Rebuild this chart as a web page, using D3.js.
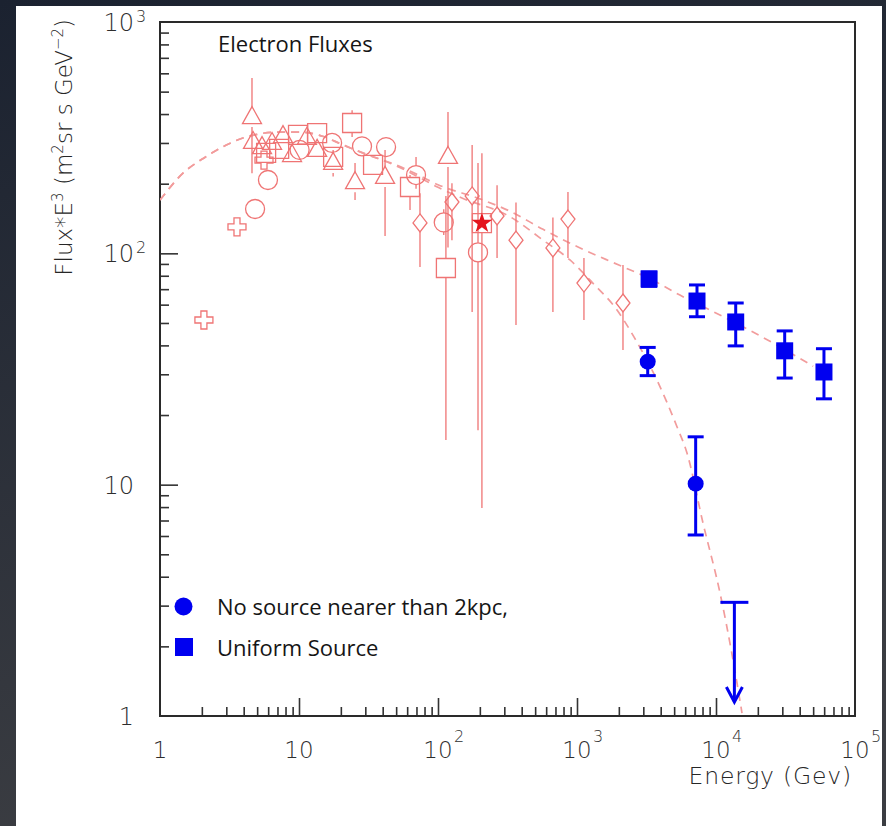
<!DOCTYPE html>
<html>
<head>
<meta charset="utf-8">
<script src="https://cdn.jsdelivr.net/npm/d3@7"></script>
<style>
  html, body { margin: 0; padding: 0; background: #262b33; }
  svg { display: block; }
</style>
</head>
<body>
<svg id="chart" width="886" height="826"></svg>
<script>
// ---------- axis ticks ----------
const xTickValues = [1, 10, 100, 1000, 10000, 100000];
const xTickBase   = ["1", "10", "10", "10", "10", "10"];
const xTickExp    = ["", "", "2", "3", "4", "5"];
const yTickValues = [1, 10, 100, 1000];
const yTickBase   = ["1", "10", "10", "10"];
const yTickExp    = ["", "", "2", "3"];

// ---------- model curves (energy in GeV, flux*E^3) ----------
const uniformModelE = [1, 1.5, 2, 3, 4, 5, 7, 10, 15, 20, 30, 50, 70, 100, 200, 330, 570, 1000, 2000, 3300, 5500, 12600, 28900, 50000];
const uniformModelF = [170, 225, 255, 294, 316, 327, 334, 334, 320, 297, 269, 241, 220, 198, 172, 152, 127, 107, 89, 78, 66, 51.5, 39.4, 32.5];
const noSourceModelE = [1, 1.5, 2, 3, 4, 5, 7, 10, 15, 20, 30, 50, 70, 100, 150, 330, 570, 890, 1300, 1940, 2600, 3760, 5240, 6185, 8060, 10690, 13250, 15380];
const noSourceModelF = [170, 225, 255, 294, 316, 327, 334, 334, 320, 297, 269, 239, 216, 193, 173, 144, 114, 93.6, 74.4, 56.9, 43, 28.3, 17.8, 13.7, 6.83, 3.40, 1.75, 1.03];

// ---------- measurements: [E, flux, low, high] ----------
const crossPoints = [[2.07, 51.5], [3.58, 130], [5.6, 253]];
const circlePoints = [
  [4.83, 155.5], [5.98, 207.5], [10.1, 280], [17.3, 300], [28.4, 290], [42.3, 288],
  [69.5, 218, 190, 261], [110, 136, 120, 155], [194, 101, 17.2, 246]
];
const trianglePoints = [
  [4.59, 388, 222, 573], [4.67, 303, 270, 335], [5.42, 288], [6.4, 300], [7.67, 321],
  [8.91, 266], [11.4, 316], [13.5, 280], [17.6, 246, 215, 280], [25.3, 203, 170, 246],
  [41.6, 214, 118.8, 280], [118, 261, 106, 408]
];
const squarePoints = [
  [5.8, 272], [7.2, 283], [9.84, 325], [13.5, 331], [17.6, 261], [24.1, 366, 318, 415],
  [34.1, 241, 220, 265], [62.9, 193.5, 154, 218], [114, 86.4, 15.6, 177], [207, 135, 7.93, 271]
];
const diamondPoints = [
  [74.2, 135.3, 87.3, 182], [126, 166.7, 114, 201], [176, 177, 55.8, 294],
  [266, 145, 95.5, 197], [364, 114, 49, 166], [671, 105.5, 55.8, 143],
  [861, 140.7, 95.5, 184], [1122, 74.4, 51.5, 95.5], [2142, 61, 38.2, 89.1]
];
const starPoints = [[207, 135]];

const uniformSource = [
  [3300, 77.5, 72, 83], [7300, 62.2, 53.2, 73], [13860, 50.5, 39.8, 61],
  [31200, 37.9, 28.9, 46.2], [59800, 30.7, 23.5, 38.7]
];
const noSource = [[3226, 34.0, 29.6, 39.2], [7140, 10.1, 6.06, 16.1]];
const noSourceLimit = [[13560, 3.1, 1.15]];   // [E, upper limit, arrow tip]

const legendLabels = ["No source nearer than 2kpc,", "Uniform Source"];

// ---------- layout ----------
const W = 886, H = 826;
const plot = { left: 160, right: 855, top: 22, bottom: 716 };
const pink = "#ef7474";
const pinkDash = "#f29c9c";
const blue = "#0000f0";
const axisFont = "'DejaVu Sans', sans-serif";
const axisWeight = 200;
const textFont = "'Open Sans', sans-serif";

const svg = d3.select("#chart");

// frame background
const defs = svg.append("defs");
const grad = defs.append("linearGradient").attr("id", "bg").attr("x1", 0).attr("y1", 0).attr("x2", 0.25).attr("y2", 1);
grad.append("stop").attr("offset", "0%").attr("stop-color", "#1b2230");
grad.append("stop").attr("offset", "100%").attr("stop-color", "#3b3d42");
svg.append("rect").attr("width", W).attr("height", H).attr("fill", "url(#bg)");
svg.append("rect").attr("x", 16).attr("y", 6).attr("width", 866).attr("height", 820).attr("fill", "#fff");

defs.append("clipPath").attr("id", "plotClip").append("rect")
  .attr("x", plot.left).attr("y", plot.top)
  .attr("width", plot.right - plot.left).attr("height", plot.bottom - plot.top);

const x = d3.scaleLog().domain([1, 1e5]).range([plot.left, plot.right]);
const y = d3.scaleLog().domain([1, 1000]).range([plot.bottom, plot.top]);

// ---------- axes ----------
const minorX = [];
for (let d = 1; d < 1e5; d *= 10) for (let k = 2; k <= 9; k++) minorX.push(d * k);
const minorY = [];
for (let d = 1; d < 1e3; d *= 10) for (let k = 2; k <= 9; k++) minorY.push(d * k);

function styleAxis(g) {
  g.select(".domain").remove();
  g.selectAll("text").remove();
  g.selectAll("line").attr("stroke", "#333").attr("stroke-width", 1.6);
}
svg.append("g").attr("transform", `translate(0,${plot.bottom})`)
  .call(d3.axisBottom(x).tickValues(minorX).tickSize(-9).tickSizeOuter(0).tickFormat(""))
  .call(styleAxis);
svg.append("g").attr("transform", `translate(0,${plot.bottom})`)
  .call(d3.axisBottom(x).tickValues(xTickValues.slice(1, -1)).tickSize(-18).tickSizeOuter(0).tickFormat(""))
  .call(styleAxis);
svg.append("g").attr("transform", `translate(${plot.left},0)`)
  .call(d3.axisLeft(y).tickValues(minorY).tickSize(-9).tickSizeOuter(0).tickFormat(""))
  .call(styleAxis);
svg.append("g").attr("transform", `translate(${plot.left},0)`)
  .call(d3.axisLeft(y).tickValues(yTickValues.slice(1, -1)).tickSize(-18).tickSizeOuter(0).tickFormat(""))
  .call(styleAxis);

svg.append("rect")
  .attr("x", plot.left).attr("y", plot.top)
  .attr("width", plot.right - plot.left).attr("height", plot.bottom - plot.top)
  .attr("fill", "none").attr("stroke", "#2a2a2a").attr("stroke-width", 2);

// tick labels
const tickCol = "#2e2e2e";
xTickValues.forEach((v, i) => {
  svg.append("text").attr("x", x(v)).attr("y", 758)
    .attr("text-anchor", "middle").attr("font-family", axisFont).attr("font-weight", axisWeight)
    .attr("font-size", 23).attr("fill", tickCol).text(xTickBase[i]);
  if (xTickExp[i]) {
    svg.append("text").attr("x", x(v) + 16).attr("y", 742)
      .attr("font-family", axisFont).attr("font-weight", axisWeight)
      .attr("font-size", 16).attr("fill", tickCol).text(xTickExp[i]);
  }
});
yTickValues.forEach((v, i) => {
  svg.append("text").attr("x", 134).attr("y", y(v) + 9)
    .attr("text-anchor", "end").attr("font-family", axisFont).attr("font-weight", axisWeight)
    .attr("font-size", 24).attr("fill", tickCol).text(yTickBase[i]);
  if (yTickExp[i]) {
    svg.append("text").attr("x", 136).attr("y", y(v))
      .attr("font-family", axisFont).attr("font-weight", axisWeight)
      .attr("font-size", 16).attr("fill", tickCol).text(yTickExp[i]);
  }
});

// axis titles
svg.append("text").attr("x", 852).attr("y", 784).attr("text-anchor", "end")
  .attr("font-family", axisFont).attr("font-weight", axisWeight)
  .attr("font-size", 23.5).attr("letter-spacing", 0.8).attr("fill", "#262626").text("Energy (Gev)");

const yTitle = svg.append("text").attr("transform", "translate(72,19) rotate(-90)")
  .attr("text-anchor", "end").attr("font-family", axisFont).attr("font-weight", axisWeight)
  .attr("font-size", 23).attr("fill", "#262626");
yTitle.append("tspan").text("Flux*E");
yTitle.append("tspan").attr("font-size", 15).attr("dy", -9).text("3");
yTitle.append("tspan").attr("dy", 9).text(" (m");
yTitle.append("tspan").attr("font-size", 15).attr("dy", -9).text("2");
yTitle.append("tspan").attr("dy", 9).text("sr s GeV");
yTitle.append("tspan").attr("font-size", 15).attr("dy", -9).text("\u22122");
yTitle.append("tspan").attr("dy", 9).text(")");

// chart title
svg.append("text").attr("x", 218).attr("y", 52)
  .attr("font-family", textFont).attr("font-size", 22).attr("fill", "#151515").text("Electron Fluxes");

// ---------- plot content ----------
const area = svg.append("g").attr("clip-path", "url(#plotClip)");

const line = d3.line().x(d => x(d[0])).y(d => y(d[1])).curve(d3.curveMonotoneX);
const uniformModel = uniformModelE.map((e, i) => [e, uniformModelF[i]]);
const noSourceModel = noSourceModelE.map((e, i) => [e, noSourceModelF[i]]);
[uniformModel, noSourceModel].forEach(c => {
  area.append("path").datum(c).attr("d", line)
    .attr("fill", "none").attr("stroke", pinkDash).attr("stroke-width", 1.7)
    .attr("stroke-dasharray", "8,6");
});

// pink error bars, stopping at the marker outline
function pinkErrors(pts, gap) {
  pts.filter(p => p.length > 2).forEach(p => {
    const cx = x(p[0]), cy = y(p[1]);
    const yHi = y(p[3]), yLo = y(p[2]);
    if (cy - gap > yHi) area.append("line").attr("x1", cx).attr("x2", cx).attr("y1", yHi).attr("y2", cy - gap)
      .attr("stroke", pink).attr("stroke-width", 1.3);
    if (yLo > cy + gap) area.append("line").attr("x1", cx).attr("x2", cx).attr("y1", cy + gap).attr("y2", yLo)
      .attr("stroke", pink).attr("stroke-width", 1.3);
  });
}
function pinkMarkers(pts, pathD) {
  area.append("g").selectAll("path").data(pts).join("path")
    .attr("transform", d => `translate(${x(d[0])},${y(d[1])})`)
    .attr("d", pathD)
    .attr("fill", "none").attr("stroke", pink).attr("stroke-width", 1.3);
}
const triPath = "M0,-10.5L9.5,6.5L-9.5,6.5Z";
const sqPath = "M-9.5,-9.5H9.5V9.5H-9.5Z";
const diaPath = "M0,-9L7,0L0,9L-7,0Z";
const crossPath = "M-3,-9H3V-3H9V3H3V9H-3V3H-9V-3H-3Z";
const circPath = d3.arc()({ innerRadius: 0, outerRadius: 9.5, startAngle: 0, endAngle: 2 * Math.PI });

pinkErrors(trianglePoints, 10);
pinkErrors(squarePoints, 9.5);
pinkErrors(circlePoints, 9.5);
pinkErrors(diamondPoints, 9);
pinkMarkers(crossPoints, crossPath);
pinkMarkers(circlePoints, circPath);
pinkMarkers(trianglePoints, triPath);
pinkMarkers(squarePoints, sqPath);
pinkMarkers(diamondPoints, diaPath);

area.selectAll(".star").data(starPoints).join("path")
  .attr("transform", d => `translate(${x(d[0])},${y(d[1])})`)
  .attr("d", d3.symbol(d3.symbolStar, 130))
  .attr("fill", "#e4141c");

// blue measurements with capped error bars
function blueErrors(pts) {
  pts.forEach(p => {
    const cx = x(p[0]);
    const g = area.append("g").attr("stroke", blue).attr("stroke-width", 3);
    g.append("line").attr("x1", cx).attr("x2", cx).attr("y1", y(p[3])).attr("y2", y(p[2]));
    g.append("line").attr("x1", cx - 8).attr("x2", cx + 8).attr("y1", y(p[3])).attr("y2", y(p[3]));
    g.append("line").attr("x1", cx - 8).attr("x2", cx + 8).attr("y1", y(p[2])).attr("y2", y(p[2]));
  });
}
blueErrors(uniformSource);
blueErrors(noSource);
area.append("g").selectAll("rect").data(uniformSource).join("rect")
  .attr("x", d => x(d[0]) - 8.5).attr("y", d => y(d[1]) - 8.5)
  .attr("width", 17).attr("height", 17).attr("fill", blue);
area.append("g").selectAll("circle").data(noSource).join("circle")
  .attr("cx", d => x(d[0])).attr("cy", d => y(d[1])).attr("r", 8).attr("fill", blue);

// upper limit arrow
noSourceLimit.forEach(p => {
  const cx = x(p[0]), top = y(p[1]), tip = y(p[2]);
  const g = area.append("g").attr("stroke", blue).attr("stroke-width", 3).attr("fill", "none");
  g.append("line").attr("x1", cx - 14).attr("x2", cx + 14).attr("y1", top).attr("y2", top);
  g.append("line").attr("x1", cx).attr("x2", cx).attr("y1", top).attr("y2", tip);
  g.append("path").attr("d", `M${cx - 8},${tip - 15}L${cx},${tip}L${cx + 8},${tip - 15}`);
});

// legend
const legend = svg.append("g");
legend.append("circle").attr("cx", 183.5).attr("cy", 606.5).attr("r", 9).attr("fill", blue);
legend.append("rect").attr("x", 175).attr("y", 638).attr("width", 18).attr("height", 18).attr("fill", blue);
legendLabels.forEach((t, i) => {
  legend.append("text").attr("x", 217).attr("y", 615 + i * 41)
    .attr("font-family", textFont).attr("font-size", 22).attr("fill", "#151515").text(t);
});
</script>
</body>
</html>
